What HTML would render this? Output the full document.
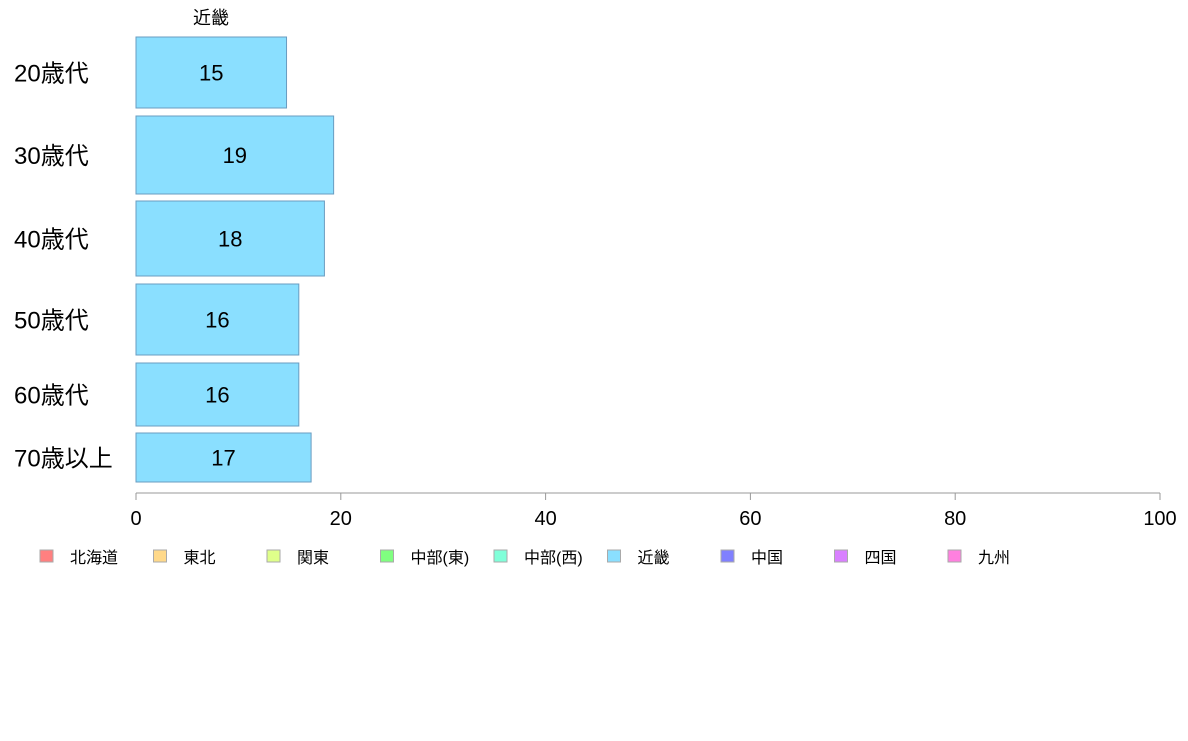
<!DOCTYPE html>
<html><head><meta charset="utf-8"><style>
body{margin:0;background:#fff;}
svg text{font-family:"Liberation Sans","Noto Sans CJK JP",sans-serif;fill:#000;}
</style></head><body>
<svg width="1188" height="736" xmlns="http://www.w3.org/2000/svg">
<g id="g"></g>
</svg>
<script>
const categories=["20歳代","30歳代","40歳代","50歳代","60歳代","70歳以上"];
const values=[14.7,19.3,18.4,15.9,15.9,17.1];
const valueLabels=["15","19","18","16","16","17"];
const barTops=[37,116,201,284,363,433];
const barBottoms=[108,194,276,355,426,482];
const ticks=[0,20,40,60,80,100];
const legendNames=["北海道","東北","関東","中部(東)","中部(西)","近畿","中国","四国","九州"];
const legendColors=["#ff8080","#ffd98a","#dfff8a","#80ff80","#80ffd9","#8adfff","#8080ff","#d980ff","#ff80df"];
const g=document.getElementById('g');
const NS="http://www.w3.org/2000/svg";
function x(v){return 136+v*10.24;}
function mk(t,a,txt){const e=document.createElementNS(NS,t);for(const k in a)e.setAttribute(k,a[k]);if(txt!=null)e.textContent=txt;g.appendChild(e);return e;}
let t=mk('text',{x:211,y:24,'font-size':18,'text-anchor':'middle'},'近畿');


categories.forEach((c,i)=>{
  const y0=barTops[i],y1=barBottoms[i],cy=(y0+y1)/2;
  const r=mk('rect',{x:x(0),y:y0,width:x(values[i])-x(0),height:y1-y0,fill:'#8adfff',stroke:'#6a9cc0','stroke-width':1});
  
  
  const l=mk('text',{x:(x(0)+x(values[i]))/2,y:cy+8,'font-size':22,'text-anchor':'middle'},valueLabels[i]);
  
  
  const cl=mk('text',{x:14,y:cy+9,'font-size':24},c);
  
  
});
const ax=mk('line',{x1:x(0),y1:493,x2:x(100),y2:493,stroke:'#999','stroke-width':1});


ticks.forEach(v=>{
  const tl=mk('line',{x1:x(v),y1:493,x2:x(v),y2:500,stroke:'#999','stroke-width':1});
  
  
  const tt=mk('text',{x:x(v),y:525,'font-size':20,'text-anchor':'middle'},String(v));
  
  
});
legendNames.forEach((n,i)=>{
  const lx=40+i*113.5;
  const s=mk('rect',{x:lx,y:550,width:13,height:12,fill:legendColors[i],stroke:'#aaa','stroke-width':1});
  
  
  const lt=mk('text',{x:lx+30,y:563,'font-size':16},n);
  
  
});
</script>
</body></html>
